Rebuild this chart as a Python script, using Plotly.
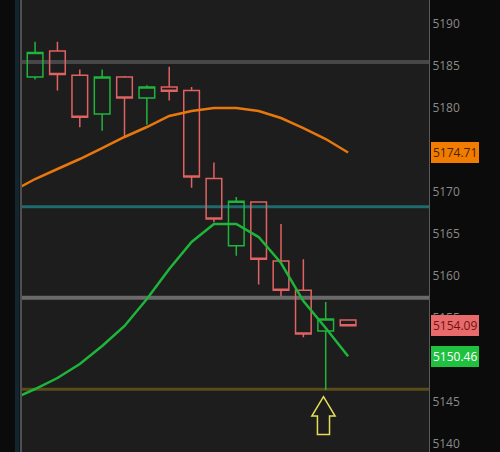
import plotly.graph_objects as go

# candle data (15 bars)
bars = list(range(15))
opens = [5183.7, 5186.8, 5183.9, 5179.3, 5183.7, 5181.2, 5182.5, 5182.1,
         5171.6, 5163.6, 5168.8, 5161.8, 5158.3, 5153.45, 5154.76]
highs = [5187.9, 5187.9, 5184.6, 5184.6, 5183.8, 5182.7, 5184.9, 5182.5,
         5173.5, 5169.4, 5168.9, 5166.2, 5162.0, 5156.9, 5154.76]
lows = [5183.4, 5182.1, 5177.7, 5177.3, 5176.5, 5178.0, 5180.9, 5170.5,
        5166.4, 5162.4, 5159.0, 5157.6, 5152.7, 5146.43, 5154.09]
closes = [5186.6, 5184.0, 5178.9, 5183.7, 5181.2, 5182.5, 5182.0, 5171.8,
          5166.8, 5168.9, 5162.0, 5158.3, 5153.1, 5154.88, 5154.09]

# moving averages (first point sits just left of the view)
ma_x = list(range(-1, 15))
ma_slow = [5170.1, 5171.55, 5172.74, 5173.93, 5175.24, 5176.55, 5177.74, 5179.05,
           5179.64, 5180.0, 5180.0, 5179.64, 5178.81, 5177.62, 5176.31, 5174.71]
ma_fast = [5145.36, 5146.55, 5147.86, 5149.52, 5151.67, 5154.05, 5157.26, 5160.83,
           5164.05, 5166.19, 5166.19, 5164.64, 5161.55, 5157.02, 5153.81, 5150.46]

# horizontal levels
levels = [5185.48, 5168.25, 5157.42, 5146.51]
level_colors = ["#474747", "#1f6a6c", "#6a6a6a", "#5b4a1a"]
level_widths = [4, 3, 4, 3]

ticks = [5140, 5145, 5150, 5155, 5160, 5165, 5170, 5175, 5180, 5185, 5190]
tick_text = ["5140", "5145", "5150", "5155", "5160", "5165", "5170", "", "5180", "5185", "5190"]

# price badges on the axis
badge_values = [5174.71, 5154.09, 5150.46]
badge_bg = ["#f27c02", "#e96a6a", "#1fc13f"]
badge_fg = ["#4a2300", "#6e1414", "#ffffff"]

# marker arrow under the hammer candle
arrow_bar = 13
arrow_tip = lows[arrow_bar] - 0.8

fig = go.Figure()

fig.add_trace(
    go.Candlestick(
        x=bars,
        open=opens,
        high=highs,
        low=lows,
        close=closes,
        increasing=dict(line=dict(color="#1fb53c", width=1.5), fillcolor="rgba(0,0,0,0)"),
        decreasing=dict(line=dict(color="#e06262", width=1.5), fillcolor="rgba(0,0,0,0)"),
        showlegend=False,
        hoverinfo="skip",
    )
)

fig.add_trace(
    go.Scatter(x=ma_x, y=ma_slow, mode="lines", line=dict(color="#e8780e", width=2.5),
               showlegend=False, hoverinfo="skip")
)
fig.add_trace(
    go.Scatter(x=ma_x, y=ma_fast, mode="lines", line=dict(color="#1db53a", width=2.5),
               showlegend=False, hoverinfo="skip")
)

for lvl, col, w in zip(levels, level_colors, level_widths):
    fig.add_shape(type="line", xref="paper", x0=0, x1=1, yref="y", y0=lvl, y1=lvl,
                  line=dict(color=col, width=w), layer="below")

# left strip
fig.add_shape(type="rect", xref="paper", yref="paper", x0=-0.0147, x1=-0.0037, y0=0, y1=1,
              fillcolor="#13252d", line_width=0)

# up arrow outline
hw, sw = 0.52, 0.27
base = arrow_tip - 2.3
bottom = arrow_tip - 4.5
ax = arrow_bar - 0.1
path = (f"M {ax},{arrow_tip} L {ax + hw},{base} L {ax + sw},{base} L {ax + sw},{bottom} "
        f"L {ax - sw},{bottom} L {ax - sw},{base} L {ax - hw},{base} Z")
fig.add_shape(type="path", xref="x", yref="y", path=path,
              line=dict(color="#e3de5a", width=1.5))

for val, bg, fg in zip(badge_values, badge_bg, badge_fg):
    fig.add_annotation(
        x=1, xref="paper", xanchor="left", xshift=2, y=val, yref="y",
        text=f"{val:.2f}", showarrow=False,
        font=dict(family="Open Sans", size=12, color=fg),
        bgcolor=bg, bordercolor=bg, borderpad=1,
    )

fig.update_layout(
    width=500,
    height=452,
    margin=dict(l=21, r=71, t=0, b=0),
    paper_bgcolor="#0b0b0b",
    plot_bgcolor="#1d1d1d",
    boxgap=0.3,
    boxgroupgap=0,
    xaxis=dict(range=[-0.63, 17.62], showgrid=False, zeroline=False, showticklabels=False,
               rangeslider=dict(visible=False), showline=True, linecolor="#5a5a5a",
               linewidth=1, mirror=False, fixedrange=True),
    yaxis=dict(range=[5139.05, 5192.86], side="right", showgrid=False, zeroline=False,
               tickvals=ticks, ticktext=tick_text, ticks="", ticklabeloverflow="allow",
               tickfont=dict(family="Open Sans", size=12, color="#8a8a8a"),
               showline=True, linecolor="#5a5a5a", linewidth=1),
)

# left border of the plot
fig.add_shape(type="line", xref="paper", yref="paper", x0=0, x1=0, y0=0, y1=1,
              line=dict(color="#4f4f4f", width=2))

fig.write_html(
    "out.html",
    config={"displayModeBar": False},
    post_script="document.body.style.margin = '0';",
)
